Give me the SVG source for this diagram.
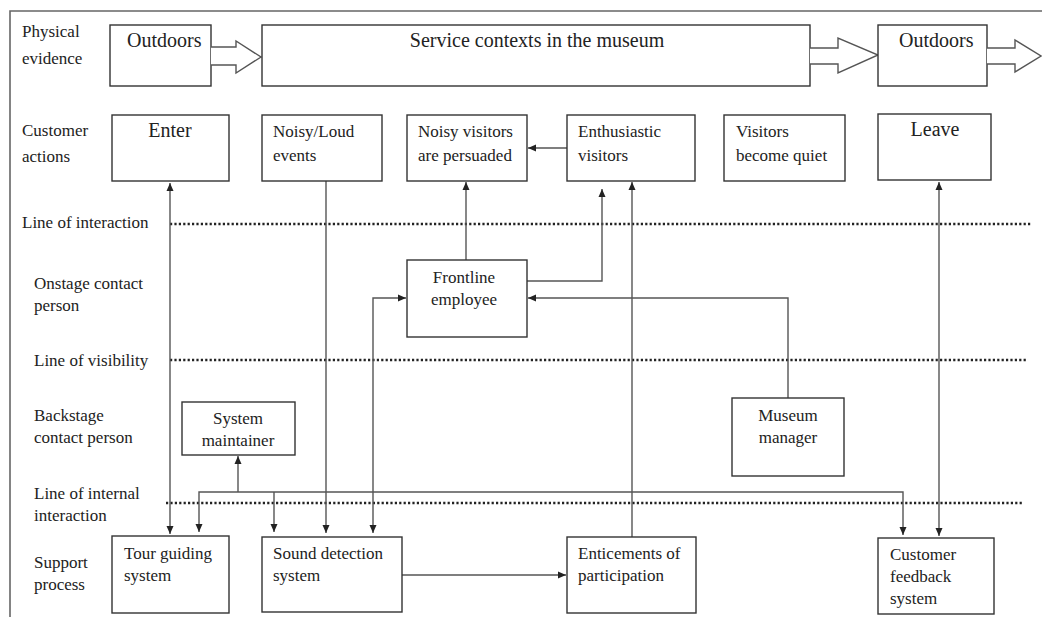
<svg xmlns="http://www.w3.org/2000/svg" width="1042" height="617" viewBox="0 0 1042 617">
<style>
text{font-family:"Liberation Serif","Times New Roman",serif;fill:#222;font-size:17px}
.big{font-size:20px}
.mid{text-anchor:middle}
.box{fill:#fff;stroke:#333;stroke-width:1.4}
.frame{fill:none;stroke:#666;stroke-width:1.6}
.dot{fill:none;stroke:#222;stroke-width:2.6;stroke-dasharray:2.2 2.2}
.con{fill:none;stroke:#555;stroke-width:1.4}
.arr{fill:#fff;stroke:#555;stroke-width:1.4;stroke-linejoin:miter}
</style>
<defs>
<marker id="ah" markerUnits="userSpaceOnUse" markerWidth="9" markerHeight="8" refX="8" refY="4" orient="auto-start-reverse">
<path d="M0,0.5 L8,4 L0,7.5 z" fill="#222"/>
</marker>
</defs>
<rect width="1042" height="617" fill="#fff"/>
<g id="frame">
<path class="frame" d="M10,617 V11 H1042"/>
</g>
<g id="labels">
<text x="22" y="37">Physical</text>
<text x="22" y="64">evidence</text>
<text x="22" y="136">Customer</text>
<text x="22" y="162">actions</text>
<text x="22" y="228">Line of interaction</text>
<text x="34" y="289">Onstage contact</text>
<text x="34" y="311">person</text>
<text x="34" y="366">Line of visibility</text>
<text x="34" y="421">Backstage</text>
<text x="34" y="443">contact person</text>
<text x="34" y="499">Line of internal</text>
<text x="34" y="521">interaction</text>
<text x="34" y="568">Support</text>
<text x="34" y="590">process</text>
</g>
<g id="lines">
<line class="dot" x1="170" y1="224" x2="1032" y2="224"/>
<line class="dot" x1="170" y1="360" x2="1026" y2="360"/>
<line class="dot" x1="166" y1="503" x2="1022" y2="503"/>
</g>
<g id="physical-evidence">
<g id="outdoors-1">
<rect class="box" x="110" y="25" width="101" height="61"/>
<text class="big" x="127" y="47">Outdoors</text>
<path class="arr" d="M211,47 H236 V41 L261,57 L236,73 V65 H211"/>
</g>
<g id="service-contexts">
<rect class="box" x="262" y="25" width="548" height="61"/>
<text class="big mid" x="537" y="47">Service contexts in the museum</text>
<path class="arr" d="M810,48 H838 V38 L878,55 L838,73 V64 H810"/>
</g>
<g id="outdoors-2">
<rect class="box" x="878" y="25" width="109" height="61"/>
<text class="big" x="899" y="47">Outdoors</text>
<path class="arr" d="M987,48 H1015 V40 L1041,56 L1015,72 V64 H987"/>
</g>
</g>
<g id="connectors">
<path class="con" d="M170,183 V534" marker-start="url(#ah)" marker-end="url(#ah)"/>
<path class="con" d="M326,181 V533" marker-end="url(#ah)"/>
<path class="con" d="M466,260 V182" marker-end="url(#ah)"/>
<path class="con" d="M527,281 H602 V189" marker-end="url(#ah)"/>
<path class="con" d="M567,148 H528" marker-end="url(#ah)"/>
<path class="con" d="M632,537 V182" marker-end="url(#ah)"/>
<path class="con" d="M788,398 V298 H528" marker-end="url(#ah)"/>
<path class="con" d="M373,533 V298 H406" marker-start="url(#ah)" marker-end="url(#ah)"/>
<path class="con" d="M939,182 V536" marker-start="url(#ah)" marker-end="url(#ah)"/>
<path class="con" d="M402,575 H566" marker-end="url(#ah)"/>
<path class="con" d="M199,532 V492 H903 V535" marker-start="url(#ah)" marker-end="url(#ah)"/>
<path class="con" d="M238,492 V456" marker-end="url(#ah)"/>
<path class="con" d="M274,492 V532" marker-end="url(#ah)"/>
</g>
<g id="enter">
<rect class="box" x="112" y="115" width="117" height="66"/>
<text class="big mid" x="170" y="137">Enter</text>
</g>
<g id="noisy-loud-events">
<rect class="box" x="262" y="115" width="120" height="66"/>
<text x="273" y="137">Noisy/Loud</text>
<text x="273" y="161">events</text>
</g>
<g id="noisy-visitors-persuaded">
<rect class="box" x="407" y="115" width="120" height="66"/>
<text x="418" y="137">Noisy visitors</text>
<text x="418" y="161">are persuaded</text>
</g>
<g id="enthusiastic-visitors">
<rect class="box" x="567" y="115" width="128" height="66"/>
<text x="578" y="137">Enthusiastic</text>
<text x="578" y="161">visitors</text>
</g>
<g id="visitors-quiet">
<rect class="box" x="724" y="115" width="121" height="66"/>
<text x="736" y="137">Visitors</text>
<text x="736" y="161">become quiet</text>
</g>
<g id="leave">
<rect class="box" x="878" y="114" width="113" height="66"/>
<text class="big mid" x="935" y="136">Leave</text>
</g>
<g id="frontline-employee">
<rect class="box" x="407" y="260" width="120" height="77"/>
<text class="mid" x="464" y="283">Frontline</text>
<text class="mid" x="464" y="305">employee</text>
</g>
<g id="system-maintainer">
<rect class="box" x="182" y="402" width="113" height="53"/>
<text class="mid" x="238" y="424">System</text>
<text class="mid" x="238" y="446">maintainer</text>
</g>
<g id="museum-manager">
<rect class="box" x="732" y="398" width="112" height="78"/>
<text class="mid" x="788" y="421">Museum</text>
<text class="mid" x="788" y="443">manager</text>
</g>
<g id="tour-guiding">
<rect class="box" x="112" y="536" width="117" height="77"/>
<text x="124" y="559">Tour guiding</text>
<text x="124" y="581">system</text>
</g>
<g id="sound-detection">
<rect class="box" x="262" y="537" width="140" height="75"/>
<text x="273" y="559">Sound detection</text>
<text x="273" y="581">system</text>
</g>
<g id="enticements">
<rect class="box" x="567" y="537" width="129" height="76"/>
<text x="578" y="559">Enticements of</text>
<text x="578" y="581">participation</text>
</g>
<g id="customer-feedback">
<rect class="box" x="878" y="538" width="116" height="76"/>
<text x="890" y="560">Customer</text>
<text x="890" y="582">feedback</text>
<text x="890" y="604">system</text>
</g>
</svg>
